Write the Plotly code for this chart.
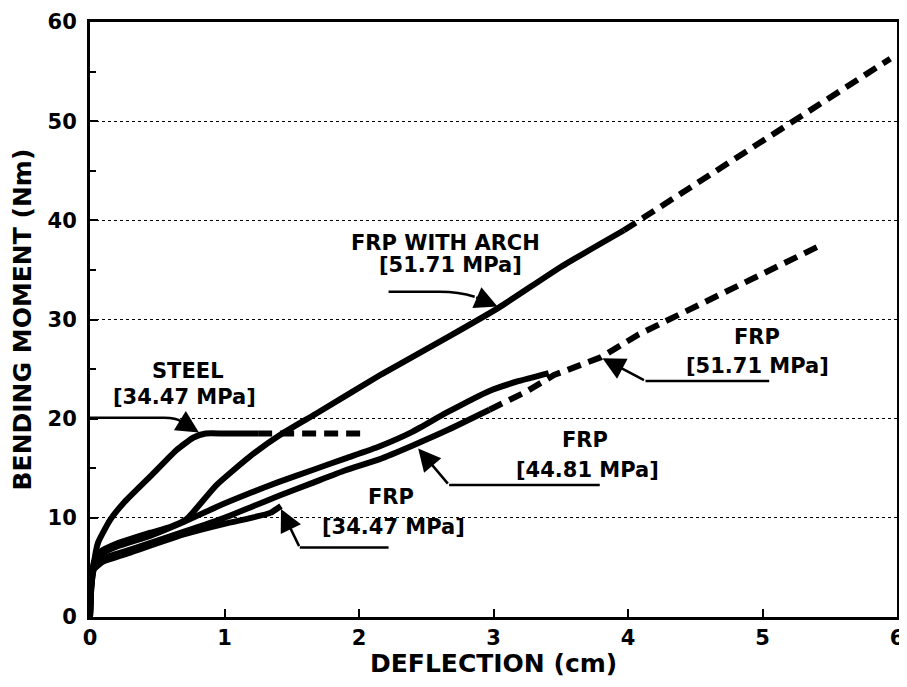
import plotly.graph_objects as go

# ---------------- data ----------------
steel_x = [0, 0.01, 0.03, 0.06, 0.15, 0.25, 0.45, 0.64, 0.77, 0.86, 1.0, 1.25]
steel_y = [0, 3.0, 5.5, 7.5, 9.8, 11.5, 14.2, 16.8, 18.1, 18.5, 18.5, 18.5]
steel_ext_x = [1.25, 2.05]
steel_ext_y = [18.5, 18.5]

arch_x = [0, 0.01, 0.03, 0.08, 0.2, 0.45, 0.6, 0.72, 0.94, 1.19, 1.44, 1.68, 2.17, 2.67, 3.04, 3.5, 3.97]
arch_y = [0, 3.5, 5.6, 6.6, 7.4, 8.5, 9.1, 9.9, 13.3, 16.2, 18.6, 20.5, 24.5, 28.3, 31.2, 35.3, 39.0]
arch_ext_x = [3.97, 4.6, 5.22, 5.95]
arch_ext_y = [39.0, 44.5, 49.8, 56.3]

frp_hi_x = [0, 0.01, 0.03, 0.08, 0.2, 0.45, 0.7, 0.94, 1.19, 1.4, 1.65, 1.9, 2.15, 2.4, 2.65, 2.97, 3.19, 3.41]
frp_hi_y = [0, 3.5, 5.3, 6.3, 7.1, 8.2, 9.6, 11.1, 12.5, 13.6, 14.8, 16.0, 17.2, 18.7, 20.6, 22.8, 23.8, 24.6]

frp_lo_x = [0, 0.01, 0.03, 0.08, 0.3, 0.7, 1.0, 1.2, 1.4, 1.65, 1.9, 2.15, 2.4, 2.65, 2.97]
frp_lo_y = [0, 3.5, 5.0, 5.8, 6.8, 8.6, 10.0, 11.1, 12.2, 13.5, 14.8, 15.9, 17.3, 18.8, 20.9]
frp_lo_ext_x = [2.97, 3.24, 3.45, 3.8, 4.08, 4.38, 4.73, 5.07, 5.42]
frp_lo_ext_y = [20.9, 22.7, 24.4, 26.2, 28.5, 30.5, 32.8, 35.2, 37.4]

frp_34_x = [0, 0.01, 0.03, 0.1, 0.3, 0.69, 1.0, 1.2, 1.34, 1.42]
frp_34_y = [0, 3.0, 4.8, 5.6, 6.5, 8.3, 9.4, 10.0, 10.5, 11.2]

x_ticks = [0, 1, 2, 3, 4, 5, 6]
y_ticks = [0, 10, 20, 30, 40, 50, 60]

x_title = "DEFLECTION (cm)"
y_title = "BENDING MOMENT (Nm)"

FONT = "DejaVu Sans, Liberation Sans, Arial, sans-serif"

fig = go.Figure()

solid = [(steel_x, steel_y), (arch_x, arch_y), (frp_hi_x, frp_hi_y),
         (frp_lo_x, frp_lo_y), (frp_34_x, frp_34_y)]
dashed = [(steel_ext_x, steel_ext_y), (arch_ext_x, arch_ext_y),
          (frp_lo_ext_x, frp_lo_ext_y)]

for xs, ys in solid:
    fig.add_trace(go.Scatter(x=xs, y=ys, mode="lines",
                             line=dict(color="black", width=6, shape="spline", smoothing=0.5),
                             showlegend=False, hoverinfo="skip"))
for xs, ys in dashed:
    fig.add_trace(go.Scatter(x=xs, y=ys, mode="lines",
                             line=dict(color="black", width=6, dash="14px,8px"),
                             showlegend=False, hoverinfo="skip"))

# ---------------- labels ----------------
labels = [
    ("STEEL", 0.73, 24.8), ("[34.47 MPa]", 0.70, 22.2),
    ("FRP WITH ARCH", 2.64, 37.7), ("[51.71 MPa]", 2.68, 35.5),
    ("FRP", 4.96, 28.2), ("[51.71 MPa]", 4.96, 25.3),
    ("FRP", 3.68, 17.8), ("[44.81 MPa]", 3.70, 14.8),
    ("FRP", 2.24, 12.1), ("[34.47 MPa]", 2.26, 9.1),
]
annotations = []
for t, x, y in labels:
    annotations.append(dict(x=x, y=y, xref="x", yref="y", text="<b>" + t + "</b>", showarrow=False,
                            font=dict(family=FONT, size=21, color="black"),
                            xanchor="center", yanchor="middle"))

# axis titles
annotations.append(dict(x=0.5, y=0, xref="paper", yref="paper", yshift=-46,
                        text="<b>" + x_title + "</b>", showarrow=False,
                        font=dict(family=FONT, size=25, color="black"),
                        xanchor="center", yanchor="middle"))
annotations.append(dict(x=0, y=0.5, xref="paper", yref="paper", xshift=-68,
                        text="<b>" + y_title + "</b>", showarrow=False, textangle=-90,
                        font=dict(family=FONT, size=25, color="black"),
                        xanchor="center", yanchor="middle"))

# arrow heads (tail -> tip)
arrows = [
    ((0.68, 19.7), (0.81, 18.6)),
    ((2.86, 32.3), (3.03, 31.3)),
    ((4.13, 23.8), (3.81, 26.1)),
    ((2.67, 13.3), (2.44, 17.0)),
    ((1.56, 7.0), (1.42, 10.9)),
]
for (ax, ay), (x, y) in arrows:
    annotations.append(dict(x=x, y=y, ax=ax, ay=ay, xref="x", yref="y", axref="x", ayref="y",
                            text="", showarrow=True, arrowhead=2, arrowsize=1.8,
                            arrowwidth=2.5, arrowcolor="black", standoff=0))

leader_paths = [
    "M 0,20.1 L 0.55,20.1 Q 0.64,20.1 0.68,19.7",
    "M 2.22,32.8 L 2.6,32.8 Q 2.74,32.8 2.86,32.3",
    "M 5.05,23.8 L 4.13,23.8",
    "M 3.79,13.3 L 2.67,13.3",
    "M 2.22,7.0 L 1.56,7.0",
]
shapes = [dict(type="path", path=p, xref="x", yref="y",
               line=dict(color="black", width=2.5)) for p in leader_paths]

fig.update_layout(
    width=907, height=687,
    margin=dict(l=82, r=18, t=14, b=78, autoexpand=False),
    paper_bgcolor="white", plot_bgcolor="white",
    annotations=annotations, shapes=shapes,
    font=dict(family=FONT, color="black"),
)

fig.update_xaxes(
    range=[0, 6], tickvals=x_ticks, ticktext=["<b>%d</b>" % v for v in x_ticks],
    showgrid=False, zeroline=False, automargin=False,
    showline=True, linewidth=3, linecolor="black", mirror=True,
    ticks="inside", ticklen=8, tickwidth=2, tickcolor="black",
    tickfont=dict(family=FONT, size=21, color="black"),
)
fig.update_yaxes(
    range=[0, 60], tickvals=y_ticks, ticktext=["<b>%d</b>" % v for v in y_ticks],
    showgrid=True, gridcolor="black", gridwidth=1, griddash="dot",
    zeroline=False, automargin=False,
    showline=True, linewidth=3, linecolor="black", mirror=True,
    ticks="inside", ticklen=8, tickwidth=2, tickcolor="black",
    minor=dict(dtick=5, ticks="inside", ticklen=6, tickwidth=2, tickcolor="black", showgrid=False),
    ticklabelstandoff=6,
    tickfont=dict(family=FONT, size=21, color="black"),
)

fig.write_html("out.html")
